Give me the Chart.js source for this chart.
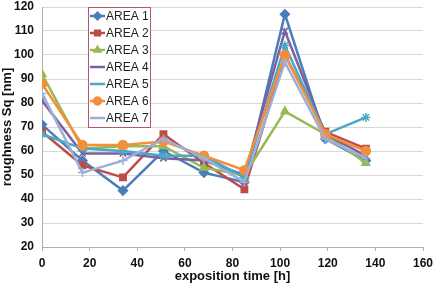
<!DOCTYPE html>
<html>
<head>
<meta charset="utf-8">
<script src="https://cdn.jsdelivr.net/npm/chart.js@4"></script>
<style>
  html, body { margin: 0; padding: 0; background: #fff; }
  #wrap { position: relative; width: 436px; height: 284px; }
</style>
</head>
<body>
<div id="wrap"><canvas id="roughChart" width="436" height="284"></canvas></div>
<script>
const times = [0, 17, 34, 51, 68, 85, 102, 119, 136];
const areaNames = ["AREA 1", "AREA 2", "AREA 3", "AREA 4", "AREA 5", "AREA 6", "AREA 7"];

const area1 = [71, 56, 43.5, 60, 51, 47, 117, 65, 56];
const area2 = [68, 54, 49, 67, 55, 44, 100, 68, 61];
const area3 = [92, 61, 62, 62, 53, 50, 76.5, 67, 55];
const area4 = [81, 59, 59, 57, 56, 50, 110, 67, 58];
const area5 = [67, 61, 60, 58, 58, 49, 104, 67, 74];
const area6 = [88, 62.5, 62.5, 64, 58, 52, 100, 67, 60];
const area7 = [84, 51, 56, 65, 57, 47, 97, 65, 57];

const seriesValues = [area1, area2, area3, area4, area5, area6, area7];
const colors = ["#4a7ebb", "#be4b48", "#98b954", "#7d60a0", "#46aac5", "#f38f3c", "#9bb0d8"];
const markers = ["rectRot", "rect", "triangle", "crossRot", "star", "circle", "cross"];

const datasets = seriesValues.map((vals, i) => ({
  label: areaNames[i],
  data: vals.map((v, j) => ({ x: times[j], y: v })),
  borderColor: colors[i],
  backgroundColor: colors[i],
  borderWidth: 2.5,
  pointStyle: markers[i],
  pointRadius: 4.5,
  pointBorderWidth: 1.5,
  tension: 0,
  fill: false,
  order: 7 - i,
}));

// legend box drawn inside the plot, like the original
const boxLegend = {
  id: "boxLegend",
  afterDraw(chart) {
    const ctx = chart.ctx;
    const x0 = 88, y0 = 7, w = 62, h = 120;
    ctx.save();
    ctx.fillStyle = "#fff";
    ctx.fillRect(x0, y0, w, h);
    ctx.strokeStyle = "#b9566b";
    ctx.lineWidth = 1;
    ctx.strokeRect(x0 + 0.5, y0 + 0.5, w, h);
    ctx.font = "12px 'Liberation Sans', Arial, sans-serif";
    ctx.textBaseline = "middle";
    areaNames.forEach((name, i) => {
      const y = 16 + i * 17;
      ctx.strokeStyle = colors[i];
      ctx.lineWidth = 2.5;
      ctx.beginPath();
      ctx.moveTo(x0 + 2, y);
      ctx.lineTo(x0 + 17, y);
      ctx.stroke();
      if (["rectRot", "rect", "triangle", "circle"].includes(markers[i])) {
        ctx.fillStyle = colors[i];
        ctx.lineWidth = 1.5;
        Chart.helpers.drawPoint(ctx, { pointStyle: markers[i], radius: 4, borderWidth: 1.5 }, x0 + 9.5, y);
      }
      ctx.fillStyle = "#222";
      ctx.fillText(name, x0 + 18, y + 0.5);
    });
    ctx.restore();
  },
};

new Chart(document.getElementById("roughChart"), {
  type: "line",
  data: { datasets },
  options: {
    responsive: false,
    animation: false,
    layout: { padding: { top: 7, right: 13, left: 0, bottom: 0 } },
    plugins: {
      legend: { display: false },
      tooltip: { enabled: false },
    },
    scales: {
      x: {
        type: "linear",
        min: 0,
        max: 160,
        ticks: {
          stepSize: 20,
          color: "#111",
          padding: 5,
          font: { family: "'Liberation Sans', Arial", size: 12, weight: "bold" },
        },
        grid: { display: true, drawOnChartArea: false, drawTicks: true, tickLength: 4, color: "#b0b0b0" },
        border: { color: "#b0b0b0" },
        title: {
          display: true,
          text: "exposition time [h]",
          color: "#111",
          padding: { top: 1, bottom: 0 },
          font: { family: "'Liberation Sans', Arial", size: 13, weight: "bold" },
        },
        afterFit(scale) {
          scale.height = 37;
          scale.paddingLeft = 0;
          scale.paddingRight = 0;
        },
      },
      y: {
        min: 20,
        max: 120,
        ticks: {
          stepSize: 10,
          color: "#111",
          padding: 8,
          font: { family: "'Liberation Sans', Arial", size: 12, weight: "bold" },
        },
        grid: { color: "#d9d9d9", lineWidth: 1, drawTicks: false },
        border: { color: "#b0b0b0" },
        title: {
          display: true,
          text: "roughness Sq [nm]",
          color: "#111",
          padding: { top: 0, bottom: 0 },
          font: { family: "'Liberation Sans', Arial", size: 13, weight: "bold" },
        },
        afterFit(scale) {
          scale.width = 42;
          scale.paddingTop = 0;
          scale.paddingBottom = 0;
        },
      },
    },
  },
  plugins: [boxLegend],
});
</script>
</body>
</html>
